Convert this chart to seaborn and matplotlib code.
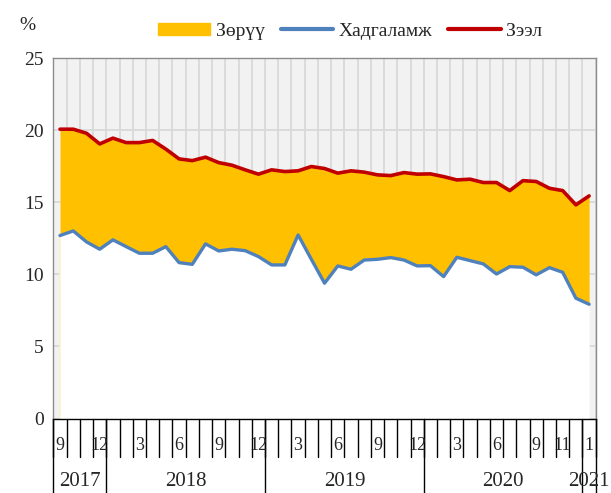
import numpy as np
import pandas as pd
import matplotlib
matplotlib.use("Agg")
import matplotlib.pyplot as plt
import matplotlib.lines as mlines
import matplotlib.patches as mpatches
import seaborn as sns

# ---------------- data ----------------
month_labels = ["9", "", "", "12", "", "", "3", "", "", "6", "", "", "9", "", "", "12",
                "", "", "3", "", "", "6", "", "", "9", "", "", "12",
                "", "", "3", "", "", "6", "", "", "9", "", "11", "", "1"]
year_labels = ["2017", "2018", "2019", "2020", "2021"]
year_sizes = [4, 12, 12, 12, 1]

deposit = [12.70, 13.02, 12.26, 11.75, 12.40, 11.93, 11.47, 11.47, 11.93, 10.82,
           10.70, 12.12, 11.63, 11.75, 11.65, 11.24, 10.66, 10.66, 12.74, 11.05,
           9.39, 10.59, 10.36, 11.00, 11.05, 11.17, 11.00, 10.59, 10.61, 9.85,
           11.19, 10.96, 10.73, 10.03, 10.54, 10.50, 9.97, 10.47, 10.15, 8.35, 7.93]
loan = [20.08, 20.08, 19.80, 19.06, 19.46, 19.15, 19.15, 19.30, 18.70, 18.02,
        17.90, 18.14, 17.76, 17.58, 17.26, 16.96, 17.26, 17.14, 17.19, 17.49,
        17.35, 17.03, 17.19, 17.10, 16.91, 16.86, 17.07, 16.96, 16.98, 16.79,
        16.56, 16.61, 16.38, 16.38, 15.82, 16.51, 16.45, 15.98, 15.82, 14.83, 15.45]
legend_labels = ["Зөрүү", "Хадгаламж", "Зээл"]

df = pd.DataFrame({"idx": np.arange(len(deposit)), "deposit": deposit, "loan": loan})

# ---------------- style ----------------
sns.set_style("white")
plt.rcParams["font.family"] = ["Liberation Serif", "DejaVu Serif"]

ORANGE = "#FFC000"
BLUE = "#4F81BD"
RED = "#C00000"

fig = plt.figure(figsize=(6.11, 4.93), dpi=100)
ax = fig.add_axes([0.0874, 0.1511, 0.8876, 0.7306])
ax.set_facecolor("#F2F2F2")

n = len(deposit)
ax.set_xlim(-0.5, n - 0.5)
ax.set_ylim(0, 25)
ax.set_yticks(np.arange(0, 26, 5))
ax.set_xticks([])
ax.set_xticks(np.arange(-0.5, n, 1), minor=True)
ax.set_axisbelow(True)
ax.grid(True, axis="y", which="major", color="#D9D9D9", lw=1.3)
ax.grid(True, axis="x", which="minor", color="#D9D9D9", lw=1.3)
ax.tick_params(axis="y", length=0, pad=7, labelsize=14)
ax.tick_params(axis="x", which="both", length=0, labelbottom=False)

# areas
ax.fill_between(df["idx"], 0, df["deposit"], color="white", zorder=1, lw=0)
ax.fill_between(df["idx"], df["deposit"], df["loan"], color=ORANGE, zorder=1.5, lw=0)
# faint edge of the stacked area at the first category
ax.vlines(df["idx"].iloc[0], 0, df["deposit"].iloc[0], color="#FFF2CC", lw=1.2, zorder=1.6)

# lines
sns.lineplot(data=df, x="idx", y="deposit", ax=ax, color=BLUE, lw=2.4, zorder=3)
sns.lineplot(data=df, x="idx", y="loan", ax=ax, color=RED, lw=2.6, zorder=4)
ax.set_xlabel("")
ax.set_ylabel("")

for s in ["left", "top", "right"]:
    ax.spines[s].set_color("#8C8C8C")
    ax.spines[s].set_linewidth(1.0)
ax.spines["bottom"].set_color("black")
ax.spines["bottom"].set_linewidth(1.0)

# custom two-level x axis
tr = ax.get_xaxis_transform()
for i, lab in enumerate(month_labels):
    if lab:
        ax.text(i, -0.074, lab, transform=tr, ha="center", va="center", fontsize=13)
for b in np.arange(-0.5, n, 1):
    ax.plot([b, b], [0, -0.1055], transform=tr, color="black", lw=1.0, clip_on=False)

start = -0.5
bounds = [start]
for size in year_sizes:
    bounds.append(bounds[-1] + size)
for b in bounds:
    ax.plot([b, b], [0, -0.21], transform=tr, color="black", lw=1.0, clip_on=False)
for lab, a, b in zip(year_labels, bounds[:-1], bounds[1:]):
    ax.text((a + b) / 2, -0.176, lab, transform=tr, ha="center", va="center", fontsize=15)

# % label
fig.text(27 / 611, 1 - 25 / 493, "%", ha="center", va="center", fontsize=14)

# legend
handles = [
    mpatches.Patch(color=ORANGE, label=legend_labels[0]),
    mlines.Line2D([], [], color=BLUE, lw=3, label=legend_labels[1]),
    mlines.Line2D([], [], color=RED, lw=3, label=legend_labels[2]),
]
fig.legend(handles=handles, loc="center", bbox_to_anchor=(0.573, 0.937), ncol=3,
           frameon=False, fontsize=14, handlelength=2.7, handleheight=0.6,
           handletextpad=0.3, columnspacing=0.8)

fig.savefig("out.png", dpi=100)
